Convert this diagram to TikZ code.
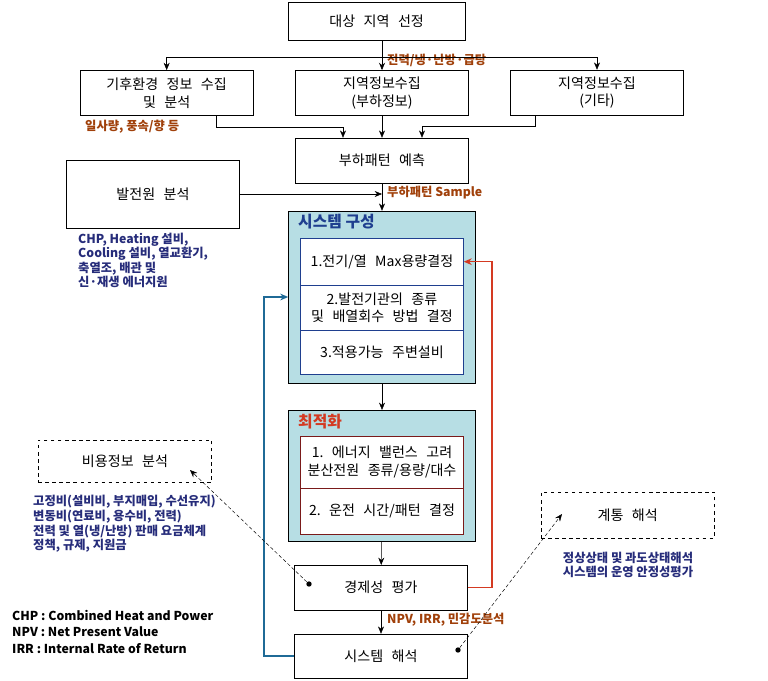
\documentclass[tikz,border=0pt]{standalone}
\usepackage{fontspec}
\setmainfont{Noto Sans CJK KR}
\usepackage{xcolor}
\usetikzlibrary{arrows.meta, positioning, calc}

\definecolor{tealbg}{HTML}{B7DEE4}
\definecolor{navytxt}{HTML}{262C7A}
\definecolor{browntxt}{HTML}{A0400A}
\definecolor{sysblue}{HTML}{1F3F8F}
\definecolor{optred}{HTML}{7A1A1A}
\definecolor{fbblue}{HTML}{1F6A96}
\definecolor{fbred}{HTML}{D43A22}
\newcommand{\gap}{\hspace{0.6em}}

\begin{document}
\begin{tikzpicture}[
    box/.style={rectangle, draw=black, fill=white, minimum width=5.2cm, minimum height=1.36cm, align=center, font=\fontsize{12}{15}\selectfont},
    dbox/.style={box, dashed},
    outer/.style={rectangle, draw=black, fill=tealbg, minimum width=5.61cm},
    sysrow/.style={rectangle, draw=sysblue, fill=white, minimum width=4.89cm, align=center, font=\fontsize{12}{15}\selectfont},
    optrow/.style={sysrow, draw=optred},
    note/.style={font=\bfseries\fontsize{10.5}{12.4}\selectfont, text=browntxt, inner sep=0pt},
    info/.style={font=\bfseries\fontsize{10.5}{12.4}\selectfont, text=navytxt, align=left, inner sep=0pt},
    arrow/.style={-{Stealth[length=2.2mm, width=1.8mm]}},
    fbline/.style={line width=1.2pt, -{Stealth[length=2.4mm, width=2mm]}},
    dotarrow/.style={densely dashed, -{Stealth[length=2.2mm, width=1.8mm]}},
    pin/.style={circle, fill=black, inner sep=0pt, minimum size=1.6mm}
]
\useasboundingbox (0,0) rectangle (23.04,-20.4);

% top row
\node[box, minimum width=5.31cm, minimum height=1.14cm] (sel) at (11.3,-0.63) {대상\gap 지역\gap 선정};
\node[box] (clim) at (5.0,-2.79) {기후환경\gap 정보\gap 수집\\및\gap 분석};
\node[box] (load) at (11.46,-2.79) {지역정보수집\\(부하정보)};
\node[box] (etc) at (17.91,-2.78) {지역정보수집\\(기타)};
\node[box] (pred) at (11.46,-4.82) {부하패턴\gap 예측};
\node[box, minimum height=2.04cm] (gen) at (4.59,-5.82) {발전원\gap 분석};

% system composition
\node[outer, minimum height=5.16cm] (sys) at (11.46,-8.91) {};
\node[anchor=west, text=sysblue, font=\bfseries\fontsize{13.5}{15}\selectfont, inner sep=0pt] (systitle) at (8.94,-6.66) {시스템 구성};
\node[sysrow, minimum height=1.41cm] (s1) at (11.46,-7.85) {1.전기/열\gap Max용량결정};
\node[sysrow, minimum height=1.35cm] (s2) at (11.46,-9.23) {2.발전기관의\gap 종류\\및\gap 배열회수\gap 방법\gap 결정};
\node[sysrow, minimum height=1.32cm] (s3) at (11.46,-10.56) {3.적용가능\gap 주변설비};

% optimization
\node[outer, minimum height=3.93cm] (opt) at (11.46,-14.27) {};
\node[anchor=west, text=fbred, font=\bfseries\fontsize{13.5}{15}\selectfont, inner sep=0pt] (opttitle) at (8.94,-12.66) {최적화};
\node[optrow, minimum height=1.56cm] (o1) at (11.46,-13.86) {1.\gap 에너지\gap 밸런스\gap 고려\\분산전원\gap 종류/용량/대수};
\node[optrow, minimum height=1.38cm] (o2) at (11.46,-15.33) {2.\gap 운전\gap 시간/패턴\gap 결정};

% evaluation
\node[box, minimum height=1.35cm] (eco) at (11.43,-17.63) {경제성\gap 평가};
\node[box, minimum height=1.32cm] (ana) at (11.43,-19.68) {시스템\gap 해석};
\node[dbox, minimum height=1.26cm] (cost) at (3.75,-13.83) {비용정보\gap 분석};
\node[dbox, minimum height=1.38cm] (grid) at (18.83,-15.45) {계통\gap 해석};

% notes
\node[note, anchor=west] (n1) at (11.61,-1.8) {전력/냉·난방·급탕};
\node[note, anchor=west] (n2) at (2.55,-3.81) {일사량, 풍속/향 등};
\node[note, anchor=west] (n3) at (11.61,-5.79) {부하패턴 Sample};
\node[note, anchor=west] (n4) at (11.61,-18.6) {NPV, IRR, 민감도분석};
\node[info, anchor=north west] (gentxt) at (2.34,-6.98) {CHP, Heating 설비,\\Cooling 설비, 열교환기,\\축열조, 배관 및\\신·재생 에너지원};
\node[info, anchor=north west] (costtxt) at (0.99,-14.86) {고정비(설비비, 부지매입, 수선유지)\\변동비(연료비, 용수비, 전력)\\전력 및 열(냉/난방) 판매 요금체계\\정책, 규제, 지원금};
\node[info, align=center] (gridtxt) at (18.84,-16.94) {정상상태 및 과도상태해석\\시스템의 운영 안정성평가};
\node[anchor=north west, align=left, inner sep=0pt, font=\bfseries\fontsize{10.5}{14}\selectfont] (legend) at (0.36,-18.3) {CHP : Combined Heat and Power\\NPV : Net Present Value\\IRR : Internal Rate of Return};

% top connectors
\coordinate (split) at (load.north |- 0,-1.71);
\draw (load.north |- sel.south) -- (split);
\draw[arrow] (split) -- (load);
\draw[arrow] (split) -| (clim.north);
\draw[arrow] (split) -| (etc.north);
\draw[arrow] ([xshift=1.485cm]clim.south) -- ++(0,-0.33) -| ([xshift=-1.17cm]pred.north);
\draw[arrow] (load) -- (pred);
\draw[arrow] ([xshift=-1.86cm]etc.south) -- ++(0,-0.33) -| ([xshift=1.2cm]pred.north);
\draw[arrow] (gen.east) -- (gen.east -| pred.south);

% main flow
\draw[arrow] (pred) -- (sys);
\draw[arrow] (sys) -- (opt);
\draw[arrow] (opt) -- (eco);
\draw[arrow] (eco) -- (ana);

% feedback
\draw[fbline, color=fbblue] (ana.west) -- ++(-0.9,0) |- (sys.west);
\draw[fbline, color=fbred] (eco.east) -- ++(0.72,0) |- (s1.east);

% dashed links
\node[pin] (ecodot) at (9.27,-17.52) {};
\node[pin] (anadot) at (13.74,-19.5) {};
\coordinate (costend) at (5.7,-14.1);
\coordinate (gridend) at (16.86,-15.42);
\draw[dotarrow] (ecodot) -- (costend);
\draw[dotarrow] (anadot) -- (gridend);
\end{tikzpicture}
\end{document}
